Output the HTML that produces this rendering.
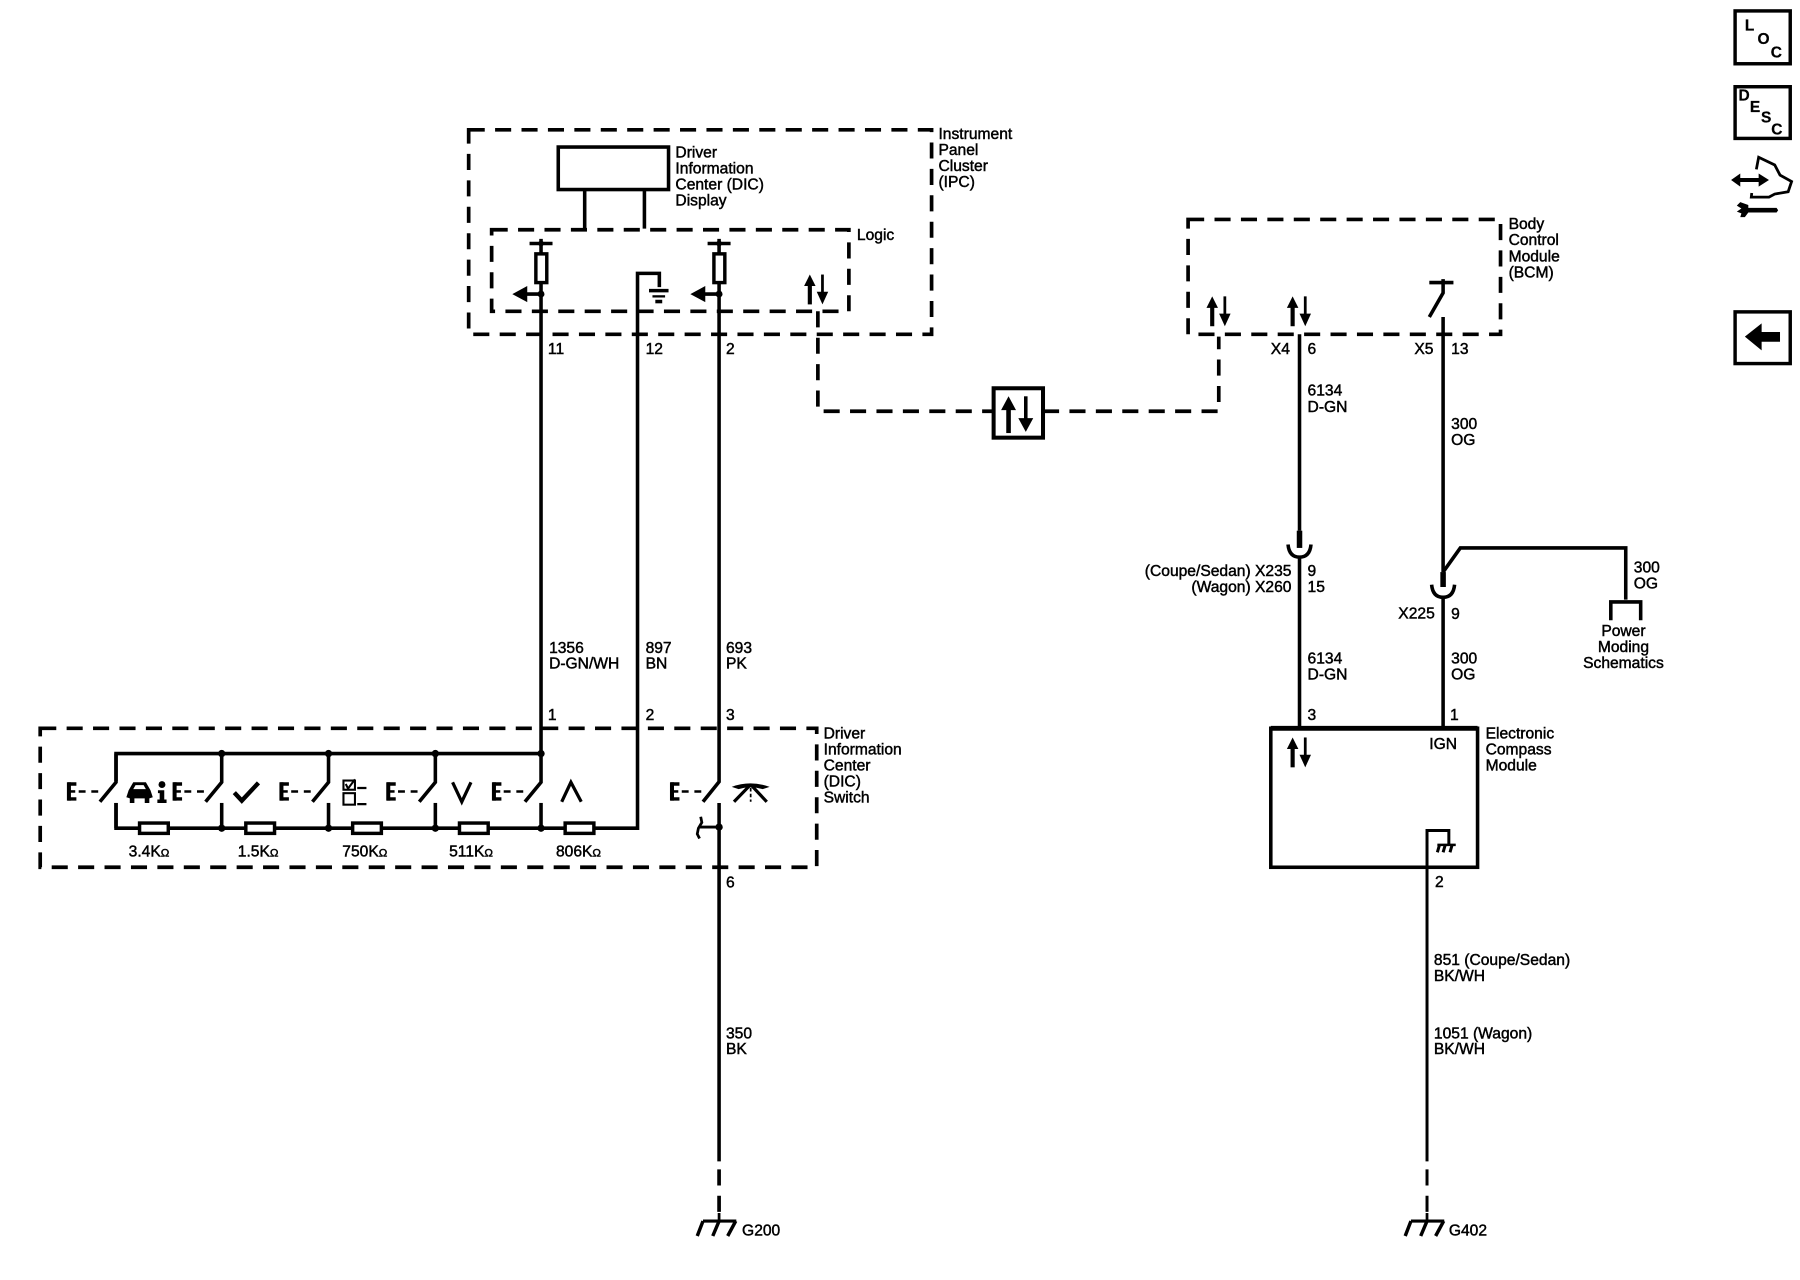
<!DOCTYPE html>
<html><head><meta charset="utf-8"><style>
html,body{margin:0;padding:0;background:#fff}
svg{display:block}
text{font-family:"Liberation Sans",sans-serif;font-size:13.6px;fill:#000;stroke:#000;stroke-width:.4}
.w{fill:none;stroke:#000;stroke-width:3.1}
.d{fill:none;stroke:#000;stroke-width:3.2;stroke-dasharray:14 9}
.t{fill:none;stroke:#000;stroke-width:2.4}
.f{fill:#000;stroke:none}
.r{fill:#fff;stroke:#000;stroke-width:3}
.b{font-weight:bold;font-size:13.5px;stroke-width:.2}
</style></head><body>
<svg xmlns="http://www.w3.org/2000/svg" width="1800" height="1280" viewBox="0 0 1567 1114.300">
<defs>
<g id="ud"><path class="w" d="M0 6V26" style="stroke-width:3.600"/><path class="f" d="M0 0L-5 10H5Z"/><path class="t" d="M11 0V18"/><path class="f" d="M11 26L6 15H16Z"/></g>
<g id="e"><path d="M-32.500 33H-26.500M-21.500 33H-15.500" stroke="#000" stroke-width="2.200" fill="none"/><path class="w" d="M-41 25V41" style="stroke-width:3.500"/><path d="M-42 26.500H-34.500M-42 39.500H-34.500" stroke="#000" stroke-width="3" fill="none"/><path d="M-41 33H-35.500" stroke="#000" stroke-width="2.200"/></g>
<g id="sb"><path class="w" d="M0 0V25L-14 42"/><path class="w" d="M0 43V65"/><use href="#e"/></g>
<g id="sw"><use href="#sb"/><circle class="f" cx="0" cy="0" r="3.200"/><circle class="f" cx="0" cy="65" r="3.200"/></g>
<g id="gnd"><path class="w" d="M-14 0H15" style="stroke-width:2.800"/><path d="M-14 0L-19 13M0 0L-5.500 13M14.500 0L7.500 13" fill="none" stroke="#000" stroke-width="3"/><path class="t" d="M0 -7V0"/></g>
</defs>

<!-- IPC -->
<rect class="d" x="408" y="113" width="403" height="178"/>
<rect class="d" x="428" y="200" width="311" height="71"/>
<rect class="w" x="486" y="128" width="96" height="37"/>
<path class="w" d="M509 165V199M561 165V199"/>
<text x="588" y="137">Driver</text><text x="588" y="151">Information</text><text x="588" y="165">Center (DIC)</text><text x="588" y="179">Display</text>
<text x="817" y="121">Instrument</text><text x="817" y="135">Panel</text><text x="817" y="149">Cluster</text><text x="817" y="163">(IPC)</text>
<text x="746" y="209">Logic</text>

<path class="w" d="M461 212H481M616 212H636M471 208V221M626 208V221"/>
<circle class="f" cx="471" cy="212" r="2.500"/><circle class="f" cx="626" cy="212" r="2.500"/>
<rect class="r" x="466.500" y="221" width="9.500" height="25"/>
<rect class="r" x="621.500" y="221" width="9.500" height="25"/>
<path class="w" d="M471 246V656"/>
<path class="w" d="M457 256H471"/><path class="f" d="M446 256L459 249V263Z"/><circle class="f" cx="471" cy="256" r="3"/>
<path class="w" d="M612 256H626"/><path class="f" d="M601 256L614 249V263Z"/><circle class="f" cx="626" cy="256" r="3"/>
<path class="w" d="M626 246V680.500L612 698"/>
<path class="w" d="M626 699V1011"/>
<path class="d" d="M626 1018V1056"/>
<path class="w" d="M574 250V238H555V721H101V699"/>
<path class="w" d="M565 253H582"/><path class="w" d="M568 258H579" style="stroke-width:2"/><path class="w" d="M570.500 262.500H576.500"/>

<use href="#ud" x="705" y="239"/>
<path class="d" d="M712 271V358H864"/>
<rect class="w" x="865" y="338" width="43" height="43" style="stroke-width:3.500"/>
<g transform="translate(878,345)"><path class="w" d="M0 8V32" style="stroke-width:4"/><path class="f" d="M0 0L-6.500 12H6.500Z"/><path class="w" d="M15 0V22"/><path class="f" d="M15 31L8.500 19H21.500Z"/></g>
<path class="d" d="M908 358H1061V293"/>

<text x="477" y="308">11</text><text x="562" y="308">12</text><text x="632" y="308">2</text>
<text x="478" y="568.500">1356</text><text x="478" y="582">D-GN/WH</text>
<text x="562" y="568.500">897</text><text x="562" y="582">BN</text>
<text x="632" y="568.500">693</text><text x="632" y="582">PK</text>
<text x="477" y="627">1</text><text x="562" y="627">2</text><text x="632" y="627">3</text><text x="632" y="772.500">6</text>
<text x="632" y="904">350</text><text x="632" y="917.500">BK</text>

<!-- DIC switch -->
<rect class="d" x="35" y="634" width="676" height="121"/>
<text x="717" y="642.700">Driver</text><text x="717" y="656.700">Information</text><text x="717" y="670.700">Center</text><text x="717" y="684.700">(DIC)</text><text x="717" y="698.700">Switch</text>
<path class="w" d="M101 680V656H471"/>
<use href="#sb" x="101" y="656"/>
<use href="#sw" x="193" y="656"/><use href="#sw" x="286" y="656"/><use href="#sw" x="379" y="656"/><use href="#sw" x="471" y="656"/>
<use href="#e" x="626" y="656"/>

<rect class="r" x="121.500" y="716.500" width="25" height="9"/>
<rect class="r" x="214" y="716.500" width="25" height="9"/>
<rect class="r" x="307" y="716.500" width="25" height="9"/>
<rect class="r" x="400" y="716.500" width="25" height="9"/>
<rect class="r" x="492" y="716.500" width="25" height="9"/>

<text x="112" y="745.500">3.4K<tspan font-size="10">Ω</tspan></text>
<text x="207" y="745.500">1.5K<tspan font-size="10">Ω</tspan></text>
<text x="298" y="745.500">750K<tspan font-size="10">Ω</tspan></text>
<text x="391" y="745.500">511K<tspan font-size="10">Ω</tspan></text>
<text x="484" y="745.500">806K<tspan font-size="10">Ω</tspan></text>

<!-- car + i -->
<path class="f" d="M110 694L112 688L116 681H127L131 688L133 694L130 695V699H126V695H117V699H113V695Z"/>
<path d="M116 687L118 683.500H125L127 687Z" fill="#fff"/>
<circle class="f" cx="141" cy="683" r="3"/><path class="f" d="M137.500 688H143V696H145V699H137V696H139V690.500H137.500Z"/>
<!-- check -->
<path d="M204 690L210.500 697L225 681.500" fill="none" stroke="#000" stroke-width="3.800"/>
<!-- checklist -->
<rect x="299" y="679.500" width="10" height="8" fill="#fff" stroke="#000" stroke-width="1.800"/>
<rect x="299" y="690.500" width="10" height="10" fill="#fff" stroke="#000" stroke-width="1.800"/>
<path d="M301 682.500L303 686.500L309 678.500" fill="none" stroke="#000" stroke-width="1.800"/>
<path d="M311 686H319M311 700H319" stroke="#000" stroke-width="2"/>
<!-- V, caret -->
<path d="M394 681L402 698L410 681" fill="none" stroke="#000" stroke-width="2.800"/>
<path d="M489 698L497 681L506 698" fill="none" stroke="#000" stroke-width="2.800"/>
<!-- wiper -->
<path class="f" d="M637 685Q653 679 670 685L664 687Q653 684 643 687Z"/>
<path d="M653.500 683L639 698M653.500 683L667.500 698" stroke="#000" stroke-width="2.800"/>
<path d="M653.500 686V698" stroke="#000" stroke-width="1.500" stroke-dasharray="3 2"/>
<!-- splice -->
<path d="M626 720H609" stroke="#000" stroke-width="2.600"/><circle class="f" cx="626" cy="720" r="3.200"/>
<path d="M610 711L611 716L608 721L607 726L609 730" fill="none" stroke="#000" stroke-width="2.400"/>

<!-- G200 -->
<use href="#gnd" x="626" y="1063"/>
<text x="646" y="1075.500">G200</text>

<g transform="translate(-.7,0)">
<!-- BCM -->
<rect class="d" x="1035" y="191" width="272" height="100"/>
<text x="1314" y="199.500">Body</text><text x="1314" y="213.500">Control</text><text x="1314" y="227.500">Module</text><text x="1314" y="241.500">(BCM)</text>
<use href="#ud" x="1056" y="258"/><use href="#ud" x="1126" y="258"/>
<path class="w" d="M1245 246H1266M1257 243V255L1245 276"/>
<path class="w" d="M1132 291V462"/>
<path class="w" d="M1132 462V477" style="stroke-width:4.800"/>
<path class="w" d="M1122 474Q1123 485 1132 485T1142 474"/>
<path class="w" d="M1132 485V633"/>
<path class="w" d="M1257 276V498"/>
<path class="w" d="M1257 498L1272 477H1416V522"/>
<path class="w" d="M1257 498V511" style="stroke-width:4.800"/>
<path class="w" d="M1247 509Q1248 520 1257 520T1267 509"/>
<path class="w" d="M1257 520V633"/>
<path class="w" d="M1403 540V524H1429V540"/>

<text x="1107" y="308">X4</text><text x="1139" y="308">6</text><text x="1232" y="308">X5</text><text x="1264" y="308">13</text>
<text x="1139" y="344.500">6134</text><text x="1139" y="358.500">D-GN</text>
<text x="1264" y="373.500">300</text><text x="1264" y="387.500">OG</text>
<text x="1125" y="501.500" text-anchor="end">(Coupe/Sedan) X235</text><text x="1125" y="515.500" text-anchor="end">(Wagon) X260</text>
<text x="1139" y="501.500">9</text><text x="1139" y="515.500">15</text>
<text x="1423" y="498.500">300</text><text x="1423" y="512.500">OG</text>
<text x="1414" y="553.500" text-anchor="middle">Power</text><text x="1414" y="567.500" text-anchor="middle">Moding</text><text x="1414" y="581.500" text-anchor="middle">Schematics</text>
<text x="1218" y="538.500">X225</text><text x="1264" y="539">9</text>
<text x="1139" y="577.600">6134</text><text x="1139" y="591.600">D-GN</text>
<text x="1264" y="577.600">300</text><text x="1264" y="591.600">OG</text>
<text x="1139" y="627">3</text><text x="1263" y="627">1</text>

<!-- Compass -->
<rect class="w" x="1107" y="634" width="180" height="121"/>
<path class="w" d="M1107 634H1287" style="stroke-width:4.200"/>
<text x="1294" y="642.700">Electronic</text><text x="1294" y="656.700">Compass</text><text x="1294" y="670.700">Module</text>
<text x="1245" y="652">IGN</text>
<use href="#ud" x="1126" y="642"/>
<path class="w" d="M1243 1011V723H1262V735" style="stroke-width:2.600"/>
<path d="M1252 735.500H1268" stroke="#000" stroke-width="2.200"/>
<path d="M1254 735L1252 742M1259 735L1257 742M1265 735L1263 742" stroke="#000" stroke-width="2.600"/>
<text x="1250" y="772">2</text>
<text x="1249" y="840">851 (Coupe/Sedan)</text><text x="1249" y="854">BK/WH</text>
<text x="1249" y="904">1051 (Wagon)</text><text x="1249" y="917.500">BK/WH</text>
<path class="d" d="M1243 1018V1056" style="stroke-width:2.600"/>
<use href="#gnd" x="1243" y="1063"/>
<text x="1262" y="1075.500">G402</text>
</g>

<!-- Right icons -->
<rect x="1510.500" y="9.500" width="48" height="46" fill="#fff" stroke="#000" stroke-width="3"/>
<text class="b" x="1519" y="26.600">L</text><text class="b" x="1530" y="38.300">O</text><text class="b" x="1541.500" y="50">C</text>
<rect x="1510.500" y="75.500" width="48" height="45" fill="#fff" stroke="#000" stroke-width="3"/>
<text class="b" x="1513.500" y="87.700">D</text><text class="b" x="1523.400" y="97.600">E</text><text class="b" x="1533" y="106.800">S</text><text class="b" x="1542" y="117">C</text>
<path d="M1512 156.700H1535" stroke="#000" stroke-width="3.500"/>
<path class="f" d="M1507 156.700L1515 151V162.500ZM1540 156.700L1531 151V162.500Z"/>
<path d="M1529 147.400L1531 136.900L1545 143.600L1549.600 152.400L1559.700 158L1556.700 166.900L1545 168.900L1540 171.600H1524.600L1525 168" fill="none" stroke="#000" stroke-width="2.400"/>
<path class="f" d="M1512 179L1515 176L1522 178.500V181H1546.600L1548 183L1546.600 185H1522L1519 189H1515L1516 185.700L1512 184.200L1516 181.500Z"/>
<rect x="1510.500" y="271.500" width="48" height="45" fill="#fff" stroke="#000" stroke-width="3"/>
<path class="f" d="M1519 293L1533.600 281.500V289H1549.600V297.500H1533.600V305Z"/>
</svg>
</body></html>
